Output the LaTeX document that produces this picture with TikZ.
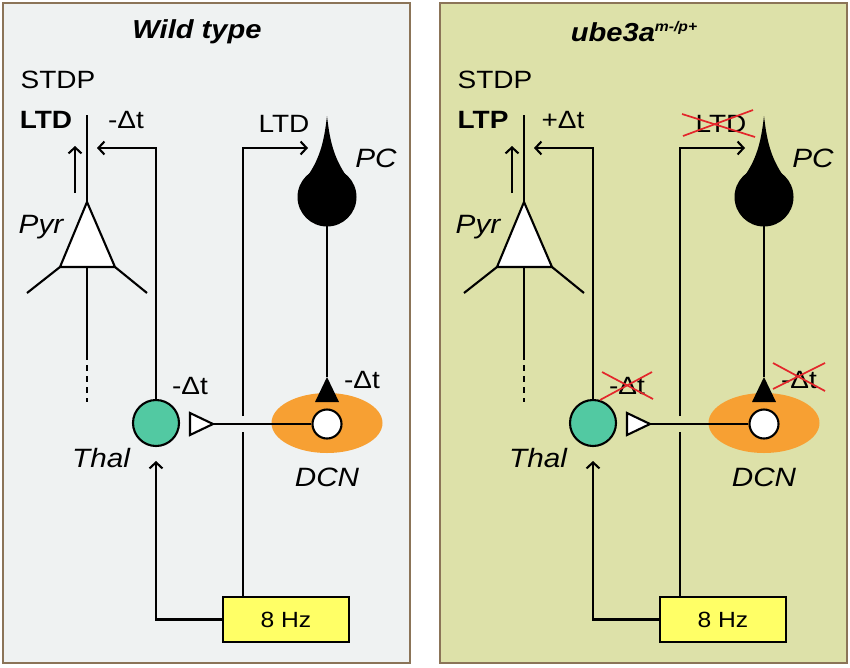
\documentclass[tikz,border=0pt]{standalone}
\usepackage{fontspec}
\setmainfont{Liberation Sans}[FakeStretch=1.12]
\usetikzlibrary{arrows.meta,shapes.geometric}
\definecolor{bgL}{HTML}{EFF2F2}
\definecolor{bgR}{HTML}{DDE1A9}
\definecolor{frame}{HTML}{8B7458}
\definecolor{thalgreen}{HTML}{52C9A2}
\definecolor{dcnorange}{HTML}{F7A033}
\definecolor{hzyellow}{HTML}{FFFF66}
\definecolor{xred}{HTML}{E3262B}
\tikzset{
  lab/.style={font=\fontsize{25}{29}\selectfont, inner sep=0pt},
  boldlab/.style={font=\fontsize{25}{29}\selectfont\bfseries, inner sep=0pt},
  ital/.style={font=\fontsize{26.5}{30}\selectfont\itshape, inner sep=0pt},
  titlelab/.style={font=\fontsize{26}{30}\selectfont\bfseries\itshape, inner sep=0pt},
  wire/.style={line width=2.1pt, black},
  arr/.style={wire, -{Straight Barb[length=6pt,width=13pt,line width=2.1pt]}},
  hzbox/.style={draw, line width=2.4pt, fill=hzyellow, minimum width=126pt, minimum height=45pt, inner sep=0pt, font=\fontsize{22}{26}\selectfont},
  cross/.style={xred, line width=1.7pt}
}
\newcommand\drawpanel[6]{%
\begin{scope}[xshift=#2]
  \draw[frame, line width=2.2pt, fill=#3] (3,3) rectangle (410,663);
  \node[titlelab] (#1title) at (197,32) {#4};
  \node[lab] (#1stdp) at (58,80) {STDP};
  \node[boldlab] (#1plast) at (46,120) {#5};
  \node[lab] (#1dtA) at (126,120) {#6};
  \node[lab] (#1ltdB) at (284,124) {LTD};
  \node[ital] (#1pclab) at (376,158) {PC};
  \node[ital] (#1pyrlab) at (41,227) {Pyr};
  \node[ital] (#1thallab) at (101,458) {Thal};
  \node[ital] (#1dcnlab) at (327,477) {DCN};
  \node[lab] (#1dtB) at (190,386) {-Δt};
  \node[lab] (#1dtC) at (362,380) {-Δt};
  % DCN
  \node[ellipse, fill=dcnorange, minimum width=111pt, minimum height=60pt] (#1dcn) at (327,423) {};
  \node[circle, draw, line width=2.1pt, fill=white, minimum size=29pt, inner sep=0pt] (#1dcnc) at (327,424) {};
  % Thal
  \node[circle, draw, line width=2.1pt, fill=thalgreen, minimum size=46pt, inner sep=0pt] (#1thal) at (156,423) {};
  % PC
  \node[circle, fill=black, minimum size=59pt, inner sep=0pt] (#1pc) at (327,197) {};
  \fill (327,116) .. controls (324,142) and (320,160) .. (304,181) -- (350,181) .. controls (334,160) and (330,142) .. (327,116) -- cycle;
  \coordinate (#1syn) at (327,377);
  \draw[wire] (#1pc.center) -- (#1syn);
  \fill (#1syn) -- (315,402) -- (339,402) -- cycle;
  % open synapse onto Thal
  \coordinate (#1tip) at (213,424);
  \draw[wire] (#1dcnc.west) -- (#1tip);
  \draw[wire, fill=white, line join=miter] (#1tip) -- (190,413) -- (190,435) -- cycle;
  % Pyr
  \coordinate (#1pyrtop) at (87,115);
  \coordinate (#1pyrapex) at (87,202);
  \coordinate (#1pyrbase) at (87,267);
  \draw[wire] (#1pyrtop) -- (#1pyrapex);
  \draw[wire, fill=white] (#1pyrapex) -- (60,267) -- (115,267) -- cycle;
  \draw[wire] (60,267) -- (27,293);
  \draw[wire] (115,267) -- (147,293);
  \draw[wire] (#1pyrbase) -- (87,360);
  \draw[wire, dash pattern=on 6pt off 5pt] (87,365) -- (87,402);
  \coordinate (#1upS) at (75,193);
  \coordinate (#1upE) at (75,146);
  \draw[arr] (#1upS) -- (#1upE);
  % Thal to Pyr
  \coordinate (#1arrL) at (97,148);
  \draw[arr] (#1thal.north) |- (#1arrL);
  % 8 Hz
  \node[hzbox] (#1hz) at (286,619.5) {8 Hz};
  \coordinate (#1vb) at (243,597);
  \coordinate (#1gapB) at (243,432);
  \coordinate (#1gapT) at (243,416);
  \coordinate (#1arrR) at (308,148);
  \draw[wire] (#1vb) -- (#1gapB);
  \draw[arr] (#1gapT) |- (#1arrR);
  \coordinate (#1thalin) at (156,461);
  \draw[arr] (#1hz.west) -| (#1thalin);
\end{scope}}
\begin{document}
\begin{tikzpicture}[x=1pt,y=-1pt]
\useasboundingbox (0,0) rectangle (850,667);
\fill[white] (0,0) rectangle (850,667);
\drawpanel{L}{0pt}{bgL}{Wild type}{LTD}{-Δt}
\drawpanel{R}{437pt}{bgR}{ube3a\raisebox{10pt}{\fontsize{14}{14}\selectfont m-/p+}}{LTP}{+Δt}
% red crosses (mutant)
\draw[cross] (682,114) -- (755,137);
\draw[cross] (683,136) -- (753,110);
\draw[cross] (600,400) -- (652,372);
\draw[cross] (602,372) -- (653,399);
\draw[cross] (773,363) -- (825,391);
\draw[cross] (773,389) -- (825,363);
\end{tikzpicture}
\end{document}
